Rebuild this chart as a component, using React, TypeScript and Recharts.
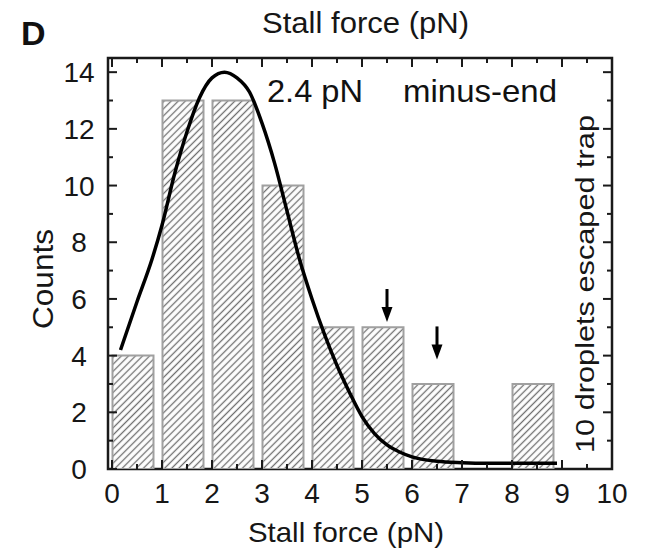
import { ComposedChart, Bar, Line, Scatter, XAxis, YAxis, ReferenceArea } from 'recharts';

// histogram bins (center of each bar, pN) and counts
const binCenters = [0.43, 1.43, 2.43, 3.43, 4.43, 5.43, 6.43, 7.43, 8.43];
const counts = [4, 13, 13, 10, 5, 5, 3, 0, 3];

// fitted curve
const fitX = [0.17, 0.5, 0.8, 1.0, 1.25, 1.5, 1.75, 2.0, 2.25, 2.5, 2.75, 3.0, 3.25, 3.5, 3.75, 4.0, 4.25, 4.5, 4.75, 5.0, 5.25, 5.5, 5.75, 6.0, 6.5, 7.0, 7.5, 8.0, 8.5, 8.9];
const fitY = [4.2, 5.9, 7.4, 8.6, 10.4, 11.9, 13.1, 13.8, 14.0, 13.8, 13.3, 12.2, 10.8, 9.1, 7.4, 6.0, 4.75, 3.65, 2.7, 1.85, 1.25, 0.85, 0.6, 0.43, 0.27, 0.22, 0.2, 0.2, 0.2, 0.2];

// arrows marking bins
const arrowX = [5.5, 6.5];
const arrowY = [5.75, 4.43];

const xTicks = [0, 0.5, 1, 1.5, 2, 2.5, 3, 3.5, 4, 4.5, 5, 5.5, 6, 6.5, 7, 7.5, 8, 8.5, 9, 9.5, 10];
const yTicks = [0, 1, 2, 3, 4, 5, 6, 7, 8, 9, 10, 11, 12, 13, 14];

const histData = binCenters.map((x, i) => ({ x, count: counts[i] }));
const fitData = fitX.map((x, i) => ({ x, y: fitY[i] }));
const arrowData = arrowX.map((x, i) => ({ x, y: arrowY[i] }));

const W = 647;
const H = 552;
const X_H = 83;
const Y_W = 108;
const M = { top: 58, right: 35, bottom: 0, left: 0 };
const PLOT_W = W - M.left - M.right - Y_W;
const PLOT_H = H - M.top - M.bottom - X_H;
const X_DOMAIN = [-0.08, 10];
const FONT = '"Liberation Sans", Arial, Helvetica, sans-serif';
const AXIS = '#1a1a1a';
const TEXT = '#161616';

function XTick(props: any) {
  const { x, y, payload } = props;
  const v = payload.value;
  const major = Number.isInteger(v);
  const len = major ? 9 : 5;
  return (
    <g>
      <line x1={x} y1={y} x2={x} y2={y - len} stroke={AXIS} strokeWidth={2} />
      <line x1={x} y1={y - PLOT_H} x2={x} y2={y - PLOT_H + len} stroke={AXIS} strokeWidth={2} />
      {major && (
        <text x={x} y={y + 34} textAnchor="middle" fontSize={28} fontFamily={FONT} fill={TEXT}>
          {v}
        </text>
      )}
    </g>
  );
}

function YTick(props: any) {
  const { x, y, payload } = props;
  const v = payload.value;
  const major = v % 2 === 0;
  const len = major ? 9 : 5;
  return (
    <g>
      <line x1={x} y1={y} x2={x + len} y2={y} stroke={AXIS} strokeWidth={2} />
      <line x1={x + PLOT_W} y1={y} x2={x + PLOT_W - len} y2={y} stroke={AXIS} strokeWidth={2} />
      {major && (
        <text x={x - 29} y={y + 10} textAnchor="middle" fontSize={28} fontFamily={FONT} fill={TEXT}>
          {v}
        </text>
      )}
    </g>
  );
}

function Arrow(props: any) {
  const { cx, cy } = props;
  return (
    <g>
      <line x1={cx} y1={cy - 17} x2={cx} y2={cy + 4} stroke="#000" strokeWidth={3} />
      <path d={`M${cx - 5.5},${cy + 1} L${cx + 5.5},${cy + 1} L${cx},${cy + 16} Z`} fill="#000" />
    </g>
  );
}

export default function App() {
  return (
    <div style={{ position: 'absolute', left: 0, top: 0, width: W, height: H, background: '#fff' }}>
      <svg width={0} height={0} style={{ position: 'absolute' }}>
        <defs>
          <pattern id="hatch" patternUnits="userSpaceOnUse" width={5} height={5} patternTransform="rotate(45)">
            <rect width={5} height={5} fill="#fff" />
            <line x1={2.5} y1={0} x2={2.5} y2={5} stroke="#707070" strokeWidth={1.3} />
          </pattern>
        </defs>
      </svg>
      <ComposedChart width={W} height={H} data={histData} margin={M}>
        <XAxis
          type="number"
          dataKey="x"
          domain={X_DOMAIN}
          ticks={xTicks}
          interval={0}
          allowDataOverflow
          axisLine={false}
          tickLine={false}
          tickSize={0}
          tickMargin={0}
          height={X_H}
          tick={(p: any) => <XTick {...p} />}
        />
        <XAxis xAxisId="bars" type="number" dataKey="x" domain={X_DOMAIN} allowDataOverflow hide />
        <YAxis
          type="number"
          domain={[0, 14.5]}
          ticks={yTicks}
          interval={0}
          allowDataOverflow
          axisLine={false}
          tickLine={false}
          tickSize={0}
          tickMargin={0}
          width={Y_W}
          tick={(p: any) => <YTick {...p} />}
        />
        <Bar
          xAxisId="bars"
          dataKey="count"
          barSize={41}
          fill="url(#hatch)"
          stroke="#a0a0a0"
          strokeWidth={2}
          isAnimationActive={false}
        />
        <Line
          data={fitData}
          dataKey="y"
          type="monotone"
          stroke="#000"
          strokeWidth={3.5}
          dot={false}
          activeDot={false}
          isAnimationActive={false}
        />
        <Scatter data={arrowData} dataKey="y" shape={(p: any) => <Arrow {...p} />} isAnimationActive={false} />
        <ReferenceArea x1={-0.08} x2={10} y1={0} y2={14.5} fill="none" stroke={AXIS} strokeWidth={2.5} />
      </ComposedChart>
      <svg width={W} height={H} style={{ position: 'absolute', left: 0, top: 0, pointerEvents: 'none' }} fontFamily={FONT} fill={TEXT}>
        <text x={21} y={45} fontSize={34} fontWeight="bold" fill="#111">D</text>
        <text x={262} y={33} fontSize={30} textLength={207} lengthAdjust="spacingAndGlyphs">Stall force (pN)</text>
        <text x={267} y={102} fontSize={32} textLength={96} lengthAdjust="spacingAndGlyphs" fill="#111">2.4 pN</text>
        <text x={403} y={102} fontSize={32} textLength={154} lengthAdjust="spacingAndGlyphs" fill="#111">minus-end</text>
        <text x={248} y={542} fontSize={28} textLength={196} lengthAdjust="spacingAndGlyphs">Stall force (pN)</text>
        <text transform="translate(53,279) rotate(-90)" textAnchor="middle" fontSize={30} textLength={100} lengthAdjust="spacingAndGlyphs">Counts</text>
        <text transform="translate(594,453) rotate(-90)" fontSize={26} textLength={338} lengthAdjust="spacingAndGlyphs">10 droplets escaped trap</text>
      </svg>
    </div>
  );
}
